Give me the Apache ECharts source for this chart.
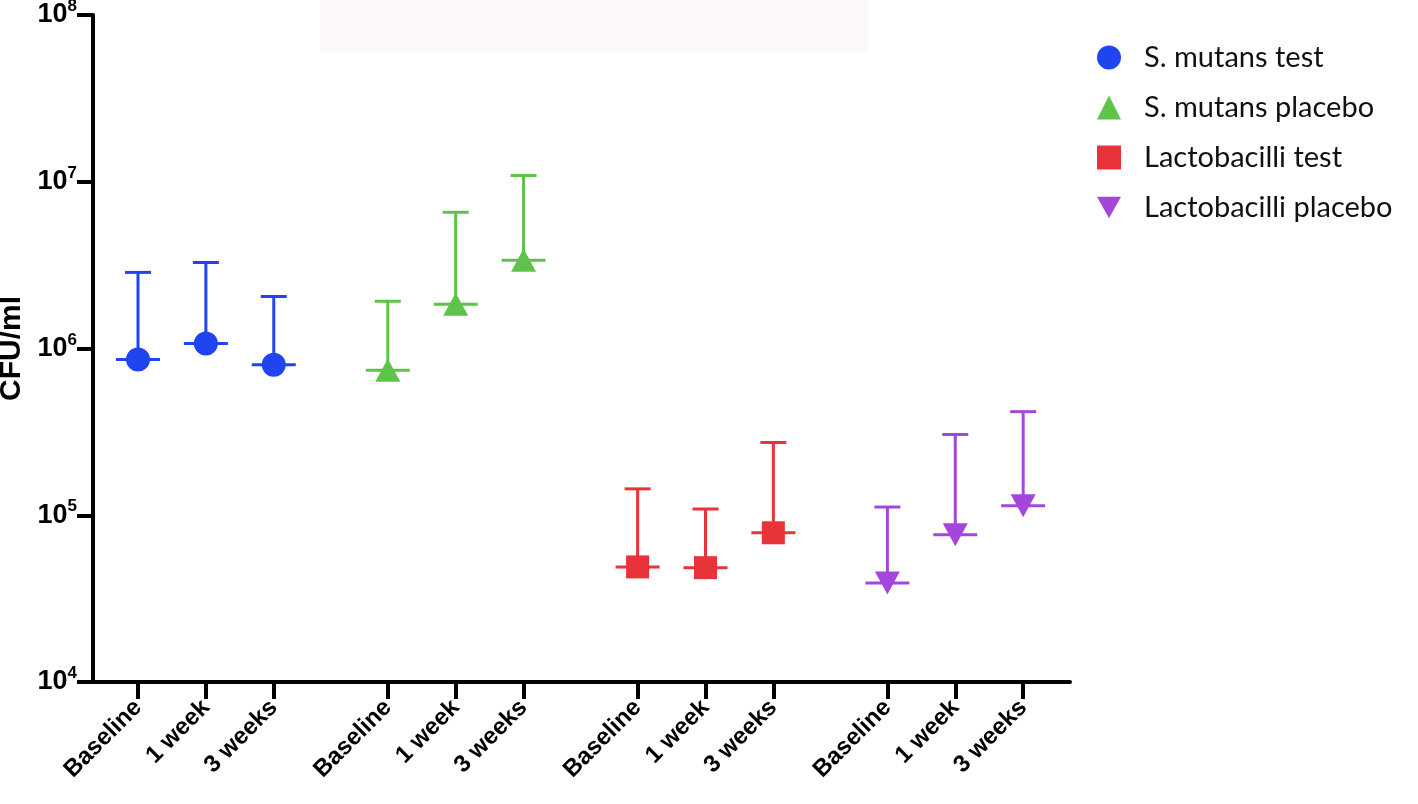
<!DOCTYPE html>
<html>
<head>
<meta charset="utf-8">
<script src="https://cdn.jsdelivr.net/npm/echarts@6/dist/echarts.min.js"></script>
<style>
html,body{margin:0;padding:0;background:#fff;}
#chart{width:1418px;height:804px;}
</style>
</head>
<body>
<div id="chart"></div>
<script>
// ---- data ----
const timepoints = ['Baseline', '1 week', '3 weeks'];
const seriesNames = ['S. mutans test', 'S. mutans placebo', 'Lactobacilli test', 'Lactobacilli placebo'];
const smTestMean     = [8.6e5, 1.07e6, 8.0e5];
const smTestUpper    = [2.86e6, 3.28e6, 2.05e6];
const smPlaceboMean  = [7.4e5, 1.84e6, 3.38e6];
const smPlaceboUpper = [1.92e6, 6.56e6, 1.09e7];
const lbTestMean     = [4.9e4, 4.85e4, 7.85e4];
const lbTestUpper    = [1.44e5, 1.09e5, 2.73e5];
const lbPlaceboMean  = [3.93e4, 7.64e4, 1.14e5];
const lbPlaceboUpper = [1.12e5, 3.05e5, 4.18e5];
const yTickExponents = [4, 5, 6, 7, 8];

// ---- layout / style ----
const GROUP_STEP = 3.68;
const colors = ['#1e45ef', '#5dc449', '#e9333b', '#a347dc'];
const symbols = ['circle', 'triangle', 'rect', 'path://M0,0 L10,0 L5,9 Z'];
const symbolSizes = [24, [25, 23], 23, [25, 23]];
const means = [smTestMean, smPlaceboMean, lbTestMean, lbPlaceboMean];
const uppers = [smTestUpper, smPlaceboUpper, lbTestUpper, lbPlaceboUpper];

const xPositions = [];
const xLabels = [];
for (let g = 0; g < 4; g++) {
  for (let i = 0; i < timepoints.length; i++) {
    xPositions.push(g * GROUP_STEP + i);
    xLabels.push(timepoints[i]);
  }
}
function labelFor(v) {
  let best = 0, bd = Infinity;
  xPositions.forEach((p, k) => { const d = Math.abs(p - v); if (d < bd) { bd = d; best = k; } });
  return xLabels[best];
}

const series = [];
for (let g = 0; g < 4; g++) {
  const data = timepoints.map((t, i) => [g * GROUP_STEP + i, means[g][i], uppers[g][i]]);
  const color = colors[g];
  series.push({
    name: seriesNames[g] + ' SD',
    type: 'custom',
    data: data,
    encode: { x: 0, y: [1, 2] },
    silent: true,
    z: 2,
    renderItem: function (params, api) {
      const x = api.value(0), m = api.value(1), u = api.value(2);
      const pm = api.coord([x, m]);
      const pu = api.coord([x, u]);
      const style = { stroke: color, lineWidth: 3, fill: null };
      return {
        type: 'group',
        children: [
          { type: 'line', shape: { x1: pm[0], y1: pm[1], x2: pu[0], y2: pu[1] }, style: style },
          { type: 'line', shape: { x1: pu[0] - 13, y1: pu[1], x2: pu[0] + 13, y2: pu[1] }, style: style },
          { type: 'line', shape: { x1: pm[0] - 22, y1: pm[1], x2: pm[0] + 22, y2: pm[1] }, style: style }
        ]
      };
    }
  });
  series.push({
    name: seriesNames[g],
    type: 'scatter',
    data: data.map(d => [d[0], d[1]]),
    symbol: symbols[g],
    symbolSize: symbolSizes[g],
    itemStyle: { color: color, opacity: 1 },
    z: 3
  });
}

const chart = echarts.init(document.getElementById('chart'), null, { renderer: 'canvas' });
chart.setOption({
  backgroundColor: '#ffffff',
  animation: false,
  graphic: [{
    type: 'rect', left: 320, top: 0, z: -10,
    shape: { width: 548, height: 52 },
    style: { fill: '#fcf8f9' }
  }],
  grid: { left: 93, top: 15, right: 348, bottom: 122, containLabel: false, outerBoundsMode: 'none' },
  legend: {
    orient: 'vertical',
    left: 1092,
    top: 38,
    itemWidth: 24,
    itemHeight: 24,
    itemGap: 21,
    selectedMode: false,
    textStyle: { fontFamily: 'Lato', fontSize: 29, color: '#111', padding: [0, 0, 0, 18] },
    data: seriesNames.map((n, g) => ({ name: n, icon: symbols[g], itemStyle: { color: colors[g] } }))
  },
  xAxis: {
    type: 'value',
    min: -0.663,
    max: 13.73,
    splitLine: { show: false },
    axisLine: { show: true, onZero: false, lineStyle: { color: '#000', width: 4 } },
    axisTick: { show: true, length: 17, lineStyle: { color: '#000', width: 4 }, customValues: xPositions },
    axisLabel: {
      customValues: xPositions,
      rotate: 45,
      margin: 22,
      formatter: v => labelFor(v),
      fontFamily: 'Liberation Sans',
      fontWeight: 'bold',
      fontSize: 24,
      color: '#000'
    }
  },
  yAxis: {
    type: 'log',
    logBase: 10,
    min: 1e4,
    max: 1e8,
    splitNumber: 4,
    name: 'CFU/ml',
    nameLocation: 'middle',
    nameRotate: 90,
    nameGap: 62,
    nameTextStyle: { fontFamily: 'Liberation Sans', fontWeight: 'bold', fontSize: 30, color: '#000' },
    splitLine: { show: false },
    axisLine: { show: true, onZero: false, lineStyle: { color: '#000', width: 4 } },
    axisTick: { show: true, length: 16, lineStyle: { color: '#000', width: 4 } },
    axisLabel: {
      margin: 16,
      formatter: v => {
        const e = Math.round(Math.log10(v));
        return yTickExponents.indexOf(e) >= 0 ? '{b|10}{s|' + e + '}' : '';
      },
      rich: {
        b: { fontFamily: 'Liberation Sans', fontWeight: 'bold', fontSize: 27, color: '#000', lineHeight: 34 },
        s: { fontFamily: 'Liberation Sans', fontWeight: 'bold', fontSize: 17, color: '#000', verticalAlign: 'top', lineHeight: 17 }
      }
    }
  },
  series: series
});
</script>
</body>
</html>
